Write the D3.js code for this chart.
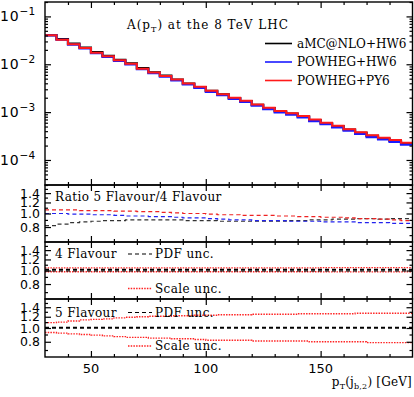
<!DOCTYPE html>
<html>
<head>
<meta charset="utf-8">
<script src="https://cdn.jsdelivr.net/npm/d3@7"></script>
<style>
  body { margin: 0; background: #fff; }
  svg { display: block; }
  .lbl { font-family: "DejaVu Serif", serif; font-size: 12px; letter-spacing: 0.4px; fill: #000; }
  .num { font-family: "DejaVu Sans", sans-serif; font-size: 12.5px; fill: #000; }
</style>
</head>
<body>
<svg id="chart" width="414" height="397"></svg>
<script>
// ---- data ----
// lower bin edges, pT [GeV]
var binLow = [30,35,40,45,50,55,60,65,70,75,80,85,90,95,100,105,110,115,120,125,
              130,135,140,145,150,155,160,165,170,175,180,185];
var binHigh = 190;

// A(pT) distributions
var amcHW6 = [0.0405,0.0335,0.0270,0.0224,0.0180,0.0150,0.0124,0.0104,0.0083,0.0068,0.0058,0.0048,
              0.00395,0.00335,0.00278,0.00235,0.00197,0.00170,0.00142,0.00121,0.00103,0.00093,
              0.00081,0.00068,0.00058,0.00051,0.00043,0.00037,0.00032,0.00028,0.00025,0.00022];
var powhegHW6 = [0.0400,0.0325,0.0258,0.0215,0.0170,0.0143,0.0118,0.0099,0.0079,0.0065,0.0055,0.0046,
                 0.00380,0.00322,0.00266,0.00226,0.00190,0.00163,0.00137,0.00116,0.00099,0.00089,
                 0.00078,0.00065,0.00056,0.00048,0.00041,0.00035,0.00030,0.00027,0.00024,0.00021];
var powhegPY6 = [0.0402,0.0327,0.0261,0.0219,0.0175,0.0147,0.0121,0.0102,0.0081,0.0067,0.0057,0.0048,
                 0.00395,0.00337,0.00278,0.00237,0.00199,0.00172,0.00145,0.00123,0.00105,0.00095,
                 0.00083,0.00070,0.00060,0.00052,0.00044,0.00038,0.00033,0.00029,0.00026,0.00023];

// ratio 5 flavour / 4 flavour
var ratioAmc = [0.82,0.84,0.86,0.87,0.88,0.89,0.89,0.90,0.90,0.90,0.90,0.90,0.89,0.89,0.89,0.88,
                0.88,0.88,0.88,0.88,0.88,0.89,0.89,0.90,0.90,0.91,0.91,0.92,0.92,0.91,0.92,0.92];
var ratioPwHW6 = [1.00,1.00,0.99,0.99,0.98,0.98,0.97,0.96,0.96,0.95,0.95,0.94,0.93,0.93,0.92,0.91,
                  0.90,0.90,0.89,0.89,0.89,0.88,0.88,0.88,0.87,0.87,0.87,0.86,0.86,0.86,0.85,0.85];
var ratioPwPY6 = [1.06,1.06,1.06,1.05,1.05,1.05,1.04,1.04,1.03,1.03,1.02,1.01,1.00,1.00,0.99,0.98,
                  0.98,0.97,0.97,0.97,0.96,0.96,0.95,0.95,0.94,0.94,0.93,0.92,0.92,0.91,0.90,0.89];

// 4 flavour uncertainty bands
var f4PdfUp   = [1.02,1.02,1.02,1.02,1.02,1.02,1.02,1.02,1.02,1.02,1.02,1.02,1.02,1.02,1.02,1.02,
                 1.02,1.02,1.02,1.02,1.02,1.02,1.02,1.02,1.02,1.02,1.02,1.02,1.02,1.02,1.02,1.02];
var f4PdfDown = [0.995,0.995,0.995,0.995,0.995,0.995,0.995,0.995,0.995,0.995,0.995,0.995,0.995,0.995,0.995,0.995,
                 0.995,0.995,0.995,0.995,0.995,0.995,0.995,0.995,0.995,0.995,0.995,0.995,0.995,0.995,0.995,0.995];
var f4ScaleUp   = [1.045,1.045,1.045,1.045,1.045,1.045,1.045,1.045,1.045,1.045,1.045,1.045,1.045,1.045,1.045,1.045,
                   1.045,1.045,1.045,1.045,1.045,1.045,1.045,1.045,1.05,1.05,1.05,1.05,1.05,1.05,1.05,1.05];
var f4ScaleDown = [0.98,0.98,0.98,0.98,0.98,0.98,0.98,0.98,0.98,0.98,0.98,0.98,0.98,0.98,0.98,0.98,
                   0.98,0.98,0.98,0.98,0.98,0.98,0.98,0.98,0.978,0.978,0.978,0.978,0.978,0.978,0.978,0.978];

// 5 flavour uncertainty bands
var f5PdfUp   = [1.01,1.01,1.01,1.01,1.01,1.01,1.01,1.01,1.01,1.01,1.01,1.01,1.01,1.01,1.01,1.01,
                 1.01,1.01,1.01,1.01,1.01,1.01,1.01,1.01,1.01,1.01,1.01,1.01,1.01,1.01,1.01,1.01];
var f5PdfDown = [0.997,0.997,0.997,0.997,0.997,0.997,0.997,0.997,0.997,0.997,0.997,0.997,0.997,0.997,0.997,0.997,
                 0.997,0.997,0.997,0.997,0.997,0.997,0.997,0.997,0.997,0.997,0.997,0.997,0.997,0.997,0.997,0.997];
var f5ScaleUp   = [1.09,1.10,1.12,1.14,1.15,1.16,1.18,1.19,1.20,1.21,1.21,1.22,1.22,1.23,1.23,1.24,
                   1.24,1.24,1.25,1.25,1.25,1.25,1.26,1.26,1.26,1.26,1.26,1.27,1.27,1.27,1.27,1.27];
var f5ScaleDown = [0.93,0.92,0.91,0.90,0.89,0.88,0.87,0.86,0.86,0.85,0.85,0.84,0.84,0.83,0.82,0.82,
                   0.82,0.82,0.81,0.81,0.81,0.81,0.81,0.80,0.80,0.80,0.80,0.80,0.79,0.79,0.79,0.79];

var mainTicks = [1e-4, 1e-3, 1e-2, 1e-1];
var ratioTicks = [0.8, 1.0, 1.2, 1.4];
var ratioMinor = [0.7, 0.9, 1.1, 1.3, 1.5];
var xTicks = [50, 100, 150];
var xMinor = [40, 60, 70, 80, 90, 110, 120, 130, 140, 160, 170, 180];

// ---- layout ----
var svg = d3.select("#chart");
var L = 45, R = 412.5;
var panels = [
    {top: 2,   bottom: 185},
    {top: 185, bottom: 242},
    {top: 242, bottom: 299},
    {top: 299, bottom: 357}
];

var x = d3.scaleLinear().domain([30, 190]).range([L, R]);
var yMain = d3.scaleLog().domain([3e-5, 0.2]).range([panels[0].bottom, panels[0].top]);
var yR = panels.slice(1).map(function(p) {
    return d3.scaleLog().domain([0.625, 1.6]).range([p.bottom, p.top]);
});

// clip paths
var defs = svg.append("defs");
panels.forEach(function(p, i) {
    defs.append("clipPath").attr("id", "clip" + i)
        .append("rect").attr("x", L).attr("y", p.top)
        .attr("width", R - L).attr("height", p.bottom - p.top);
});

function stepLine(y) {
    return function(vals) {
        var pts = vals.map(function(v, i) { return [binLow[i], v]; });
        pts.push([binHigh, vals[vals.length - 1]]);
        return d3.line()
            .x(function(d) { return x(d[0]); })
            .y(function(d) { return y(d[1]); })
            .curve(d3.curveStepAfter)(pts);
    };
}

function drawHist(g, y, vals, color, width, dash) {
    g.append("path")
        .attr("d", stepLine(y)(vals))
        .attr("fill", "none")
        .attr("stroke", color)
        .attr("stroke-width", width)
        .attr("stroke-dasharray", dash || null);
}

// ---- main panel ----
var gMain = svg.append("g").attr("clip-path", "url(#clip0)");
drawHist(gMain, yMain, amcHW6, "#000", 2.2);
drawHist(gMain, yMain, powhegHW6, "#1a1aff", 2.2);
drawHist(gMain, yMain, powhegPY6, "#ff1a1a", 2);

// ---- ratio panels ----
var g1 = svg.append("g").attr("clip-path", "url(#clip1)");
drawHist(g1, yR[0], ratioAmc, "#333", 1.2, "4,3");
drawHist(g1, yR[0], ratioPwHW6, "#2222ee", 1.2, "4,3");
drawHist(g1, yR[0], ratioPwPY6, "#ee2222", 1.2, "4,3");

var g2 = svg.append("g").attr("clip-path", "url(#clip2)");
drawHist(g2, yR[1], f4ScaleUp, "#ff2222", 1.3, "1.5,1.2");
drawHist(g2, yR[1], f4ScaleDown, "#ff2222", 1.3, "1.5,1.2");
drawHist(g2, yR[1], f4PdfUp, "#000", 1.2, "4,3");
drawHist(g2, yR[1], f4PdfDown, "#000", 1.2, "4,3");

var g3 = svg.append("g").attr("clip-path", "url(#clip3)");
drawHist(g3, yR[2], f5ScaleUp, "#ff2222", 1.3, "1.5,1.2");
drawHist(g3, yR[2], f5ScaleDown, "#ff2222", 1.3, "1.5,1.2");
drawHist(g3, yR[2], f5PdfUp, "#000", 1.2, "4,3");
drawHist(g3, yR[2], f5PdfDown, "#000", 1.2, "4,3");

// ---- axes ----
function styleAxis(g) {
    g.select(".domain").remove();
    g.selectAll("line").attr("stroke", "#000").attr("stroke-width", 1.2);
    g.selectAll("text").remove();
}

var mainMinor = [];
[-5, -4, -3, -2, -1].forEach(function(e) {
    for (var k = 2; k <= 9; k++) mainMinor.push(k * Math.pow(10, e));
});
mainMinor = mainMinor.filter(function(v) { return v >= 3e-5 && v <= 0.2; });

function yAxes(y, majors, minors) {
    svg.append("g").attr("transform", "translate(" + L + ",0)")
        .call(d3.axisLeft(y).tickValues(majors).tickSize(-6)).call(styleAxis);
    svg.append("g").attr("transform", "translate(" + L + ",0)")
        .call(d3.axisLeft(y).tickValues(minors).tickSize(-3)).call(styleAxis);
    svg.append("g").attr("transform", "translate(" + R + ",0)")
        .call(d3.axisRight(y).tickValues(majors).tickSize(-6)).call(styleAxis);
    svg.append("g").attr("transform", "translate(" + R + ",0)")
        .call(d3.axisRight(y).tickValues(minors).tickSize(-3)).call(styleAxis);
}
yAxes(yMain, mainTicks, mainMinor);
yR.forEach(function(y) { yAxes(y, ratioTicks, ratioMinor); });

panels.forEach(function(p) {
    [[p.top, d3.axisTop], [p.bottom, d3.axisBottom]].forEach(function(a) {
        svg.append("g").attr("transform", "translate(0," + a[0] + ")")
            .call(a[1](x).tickValues(xTicks).tickSize(-6)).call(styleAxis);
        svg.append("g").attr("transform", "translate(0," + a[0] + ")")
            .call(a[1](x).tickValues(xMinor).tickSize(-3)).call(styleAxis);
    });
    svg.append("rect")
        .attr("x", L).attr("y", p.top)
        .attr("width", R - L).attr("height", p.bottom - p.top)
        .attr("fill", "none").attr("stroke", "#000").attr("stroke-width", 1.4);
});

// ---- tick labels ----
mainTicks.forEach(function(v) {
    var t = svg.append("text").attr("class", "num")
        .attr("x", 0).attr("y", yMain(v) + 5)
        .style("font-size", "14px").style("letter-spacing", "0.8px");
    t.append("tspan").text("10");
    t.append("tspan").attr("dy", -6).style("font-size", "10.5px").style("letter-spacing", "0.3px")
        .text("\u2212" + (-Math.round(Math.log10(v))));
});

yR.forEach(function(y) {
    ratioTicks.forEach(function(v) {
        svg.append("text").attr("class", "num")
            .attr("x", 40).attr("y", y(v) + 4.5)
            .attr("text-anchor", "end")
            .text(v.toFixed(1));
    });
});

xTicks.forEach(function(v) {
    svg.append("text").attr("class", "num")
        .attr("x", x(v)).attr("y", 373)
        .style("font-size", "13px")
        .attr("text-anchor", "middle")
        .text(v);
});

// x axis title
var xt = svg.append("text").attr("class", "lbl")
    .attr("x", 412).attr("y", 386).attr("text-anchor", "end")
    .style("letter-spacing", "0.2px");
xt.append("tspan").text("p");
xt.append("tspan").attr("dy", 2.5).style("font-size", "8px").text("T");
xt.append("tspan").attr("dy", -2.5).text("(j");
xt.append("tspan").attr("dy", 2.5).style("font-size", "8px").text("b,2");
xt.append("tspan").attr("dy", -2.5).text(") [GeV]");

// ---- main title and legend ----
var tt = svg.append("text").attr("class", "lbl").attr("x", 127).attr("y", 29)
    .style("letter-spacing", "1px");
tt.append("tspan").text("A(p");
tt.append("tspan").attr("dy", 2.5).style("font-size", "8px").text("T");
tt.append("tspan").attr("dy", -2.5).text(") at the 8 TeV LHC");

var legendNames = ["aMC@NLO+HW6", "POWHEG+HW6", "POWHEG+PY6"];
var legendColors = ["#000", "#1a1aff", "#ff1a1a"];
legendNames.forEach(function(n, i) {
    var yy = 43.5 + i * 18.5;
    svg.append("line").attr("x1", 265).attr("x2", 292)
        .attr("y1", yy).attr("y2", yy)
        .attr("stroke", legendColors[i]).attr("stroke-width", 1.6);
    svg.append("text").attr("class", "lbl")
        .attr("x", 297).attr("y", yy + 4.2).style("letter-spacing", "0px").text(n);
});

// ---- ratio panel labels ----
svg.append("text").attr("class", "lbl").attr("x", 55).attr("y", 200.5)
    .text("Ratio 5 Flavour/4 Flavour");

function uncLegend(name, yName, yScale) {
    svg.append("text").attr("class", "lbl").attr("x", 55).attr("y", yName + 4).text(name);
    svg.append("line").attr("x1", 128).attr("x2", 152).attr("y1", yName).attr("y2", yName)
        .attr("stroke", "#000").attr("stroke-width", 1.2).attr("stroke-dasharray", "4,3");
    svg.append("text").attr("class", "lbl").attr("x", 155).attr("y", yName + 4).text("PDF unc.");
    svg.append("line").attr("x1", 128).attr("x2", 152).attr("y1", yScale).attr("y2", yScale)
        .attr("stroke", "#ff2222").attr("stroke-width", 1.3).attr("stroke-dasharray", "1.5,1.2");
    svg.append("text").attr("class", "lbl").attr("x", 155).attr("y", yScale + 4).text("Scale unc.");
}
uncLegend("4 Flavour", 254, 288.5);
uncLegend("5 Flavour", 312.5, 346);
</script>
</body>
</html>
